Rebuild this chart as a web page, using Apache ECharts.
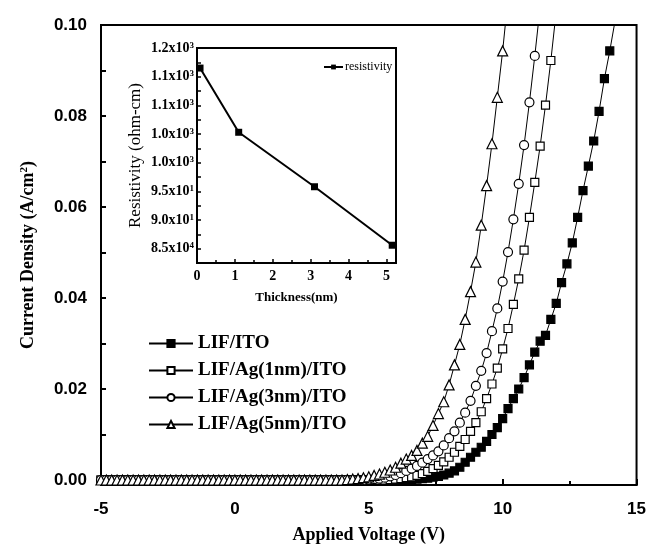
<!DOCTYPE html>
<html><head><meta charset="utf-8">
<script src="https://cdn.jsdelivr.net/npm/echarts@6/dist/echarts.min.js"></script>
<style>html,body{margin:0;padding:0;background:#fff}#c{width:649px;height:549px}</style>
</head><body><div id="c"></div>
<script>
// Applied voltage (V), shared by all four J-V series
const voltage = [-5.0,-4.8,-4.6,-4.4,-4.2,-4.0,-3.8,-3.6,-3.4,-3.2,-3.0,-2.8,-2.6,-2.4,-2.2,-2.0,-1.8,-1.6,-1.4,-1.2,-1.0,-0.8,-0.6,-0.4,-0.2,0.0,0.2,0.4,0.6,0.8,1.0,1.2,1.4,1.6,1.8,2.0,2.2,2.4,2.6,2.8,3.0,3.2,3.4,3.6,3.8,4.0,4.2,4.4,4.6,4.8,5.0,5.2,5.4,5.6,5.8,6.0,6.2,6.4,6.6,6.8,7.0,7.2,7.4,7.6,7.8,8.0,8.2,8.4,8.6,8.8,9.0,9.2,9.4,9.6,9.8,10.0,10.2,10.4,10.6,10.8,11.0,11.2,11.4,11.6,11.8,12.0,12.2,12.4,12.6,12.8,13.0,13.2,13.4,13.6,13.8,14.0,14.2];

// Current density (A/cm2), index-aligned with voltage
const jLiF = [0,0,0,0,0,0,0,0,0,0,0,0,0,0,0,0,0,0,0,0,0,0,0,0,0,0,0,0,0,0,0,0,0,0,0,0,0,0,0,0,0,0,0,0,0,0,0,0,0,0,0,0,0,0,0,0,0,0,
  0.0001,0.0002,0.0003,0.0004,0.0006,0.0008,0.0011,0.0015,0.0020,0.0028,0.0039,0.0050,0.0061,0.0072,0.0085,0.0100,0.0115,0.0135,0.0157,0.0179,0.0200,0.0225,0.0253,0.0281,0.0305,0.0318,0.0353,0.0388,0.0434,0.0475,0.0521,0.0577,0.0636,0.0690,0.0745,0.0810,0.0882,0.0943,0.1010];
const jAg1 = [0,0,0,0,0,0,0,0,0,0,0,0,0,0,0,0,0,0,0,0,0,0,0,0,0,0,0,0,0,0,0,0,0,0,0,0,0,0,0,0,0,0,0,0,0,0,0,0,0,0,0,0,0,0,
  0.0001,0.0002,0.0003,0.0005,0.0007,0.0010,0.0014,0.0019,0.0025,0.0032,0.0040,0.0050,0.0061,0.0074,0.0089,0.0107,0.0126,0.0150,0.0179,0.0211,0.0246,0.0288,0.0333,0.0386,0.0442,0.0505,0.0577,0.0654,0.0734,0.0824,0.0922,0.1030];
const jAg3 = [0,0,0,0,0,0,0,0,0,0,0,0,0,0,0,0,0,0,0,0,0,0,0,0,0,0,0,0,0,0,0,0,0,0,0,0,0,0,0,0,0,0,0,0,0,0,0,0,0,0,
  0.0001,0.0002,0.0003,0.0005,0.0008,0.0011,0.0015,0.0020,0.0025,0.0031,0.0038,0.0046,0.0054,0.0063,0.0076,0.0092,0.0107,0.0126,0.0148,0.0174,0.0207,0.0240,0.0279,0.0327,0.0377,0.0436,0.0501,0.0573,0.0651,0.0736,0.0830,0.0932,0.1040];
const jAg5 = [0,0,0,0,0,0,0,0,0,0,0,0,0,0,0,0,0,0,0,0,0,0,0,0,0,0,0,0,0,0,0,0,0,0,0,0,0,0,0,0,0,0,0,0,0,0,
  0.0001,0.0002,0.0003,0.0005,0.0007,0.0010,0.0013,0.0017,0.0022,0.0028,0.0037,0.0046,0.0054,0.0065,0.0081,0.0096,0.0120,0.0146,0.0172,0.0209,0.0253,0.0298,0.0353,0.0414,0.0479,0.0560,0.0647,0.0739,0.0841,0.0943,0.1060];

const seriesNames = ['LIF/ITO','LIF/Ag(1nm)/ITO','LIF/Ag(3nm)/ITO','LIF/Ag(5nm)/ITO'];

// Main y-axis tick marks and labels
const yLabelValues = [0, 0.02, 0.04, 0.06, 0.08, 0.10];
const yTickValues = [0, 0.01, 0.02, 0.03, 0.04, 0.05, 0.06, 0.07, 0.08, 0.09, 0.10];

// Inset: resistivity vs thickness
const thickness = [0.08, 1.1, 3.1, 5.15];
const resistivity = [116.5, 105.3, 95.8, 85.6];
const insetTickValues = [85, 90, 95, 100, 105, 110, 115, 120];
const insetTickMant = ['8.5','9.0','9.5','1.0','1.0','1.1','1.1','1.2'];
const insetTickExp = ['4','1','1','3','3','3','3','3'];

const pair = (ys) => ys.map((y, i) => [voltage[i], y]);
const serif = 'Liberation Serif';
const sans = 'Liberation Sans';

const mk = (name, ys, symbol, size, fill) => ({
  name, type: 'line', data: pair(ys), xAxisIndex: 0, yAxisIndex: 0,
  symbol, symbolSize: size, showSymbol: true, clip: true,
  lineStyle: { color: '#000', width: 1 },
  itemStyle: { color: fill, borderColor: '#000', borderWidth: 1.2 },
  emphasis: { disabled: true }, animation: false
});

const chart = echarts.init(document.getElementById('c'), null, { renderer: 'canvas' });
chart.setOption({
  animation: false,
  backgroundColor: '#fff',
  grid: [
    { left: 101, right: 10, top: 25, bottom: 59, show: true, borderColor: '#000', borderWidth: 2 },
    { left: 197, top: 48, width: 199, height: 215, show: true, borderColor: '#000', borderWidth: 2, backgroundColor: '#fff' }
  ],
  legend: [
    { data: seriesNames, orient: 'vertical', left: 143, top: 329, itemWidth: 44, itemHeight: 9, itemGap: 8,
      textStyle: { fontFamily: serif, fontWeight: 'bold', fontSize: 19, color: '#000' }, inactiveColor: '#000' },
    { data: ['resistivity'], left: 318, top: 56, itemWidth: 19, itemHeight: 6, itemGap: 2,
      textStyle: { fontFamily: serif, fontSize: 12, color: '#000', padding: [0,0,0,-3] } }
  ],
  xAxis: [
    { type: 'value', gridIndex: 0, min: -5, max: 15, interval: 5,
      axisLine: { onZero: false, lineStyle: { color: '#000', width: 2 } },
      axisTick: { inside: true, length: 6, lineStyle: { color: '#000', width: 2 } },
      minorTick: { show: true, splitNumber: 2, length: 4, lineStyle: { color: '#000', width: 2 } },
      splitLine: { show: false },
      axisLabel: { margin: 16, fontFamily: sans, fontWeight: 'bold', fontSize: 17, color: '#000' },
      name: 'Applied Voltage (V)', nameLocation: 'middle', nameGap: 41,
      nameTextStyle: { fontFamily: serif, fontWeight: 'bold', fontSize: 18, color: '#000' } },
    { type: 'value', gridIndex: 1, min: 0, max: 5.25, interval: 1,
      axisLine: { onZero: false, lineStyle: { color: '#000', width: 2 } },
      axisTick: { inside: true, length: 4, lineStyle: { color: '#000', width: 1.5 } },
      minorTick: { show: true, splitNumber: 2, length: 3, lineStyle: { color: '#000', width: 1.5 } },
      splitLine: { show: false },
      axisLabel: { margin: 6, fontFamily: serif, fontWeight: 'bold', fontSize: 14, color: '#000' },
      name: 'Thickness(nm)', nameLocation: 'middle', nameGap: 28,
      nameTextStyle: { fontFamily: serif, fontWeight: 'bold', fontSize: 13, color: '#000' } }
  ],
  yAxis: [
    { type: 'value', gridIndex: 0, min: -0.0011, max: 0.1,
      axisLine: { onZero: false, lineStyle: { color: '#000', width: 2 } },
      axisTick: { inside: true, length: 5, customValues: yTickValues, lineStyle: { color: '#000', width: 2 } },
      splitLine: { show: false },
      axisLabel: { margin: 14, customValues: yLabelValues, fontFamily: sans, fontWeight: 'bold', fontSize: 17, color: '#000',
        formatter: (v) => v.toFixed(2) },
      name: 'Current Density (A/cm{sup|2})', nameLocation: 'middle', nameGap: 64,
      nameTextStyle: { fontFamily: serif, fontWeight: 'bold', fontSize: 18, color: '#000',
        rich: { sup: { fontFamily: serif, fontWeight: 'bold', fontSize: 11, verticalAlign: 'top', color: '#000' } } } },
    { type: 'value', gridIndex: 1, min: 82.5, max: 120, interval: 2.5,
      axisLine: { onZero: false, lineStyle: { color: '#000', width: 2 } },
      axisTick: { inside: true, length: 4, lineStyle: { color: '#000', width: 1.5 } },
      splitLine: { show: false },
      axisLabel: { margin: 3, fontFamily: serif, fontWeight: 'bold', fontSize: 14, color: '#000',
        formatter: (v) => {
          const k = insetTickValues.findIndex(t => Math.abs(t - v) < 1e-6);
          return k < 0 ? '' : insetTickMant[k] + 'x10{sup|' + insetTickExp[k] + '}';
        },
        rich: { sup: { fontFamily: serif, fontSize: 9, verticalAlign: 'top', color: '#000' } } },
      name: 'Resistivity (ohm-cm)', nameLocation: 'middle', nameGap: 53,
      nameTextStyle: { fontFamily: serif, fontSize: 17, color: '#000' } }
  ],
  series: [
    mk(seriesNames[0], jLiF, 'rect', 8, '#000'),
    mk(seriesNames[1], jAg1, 'rect', 8, '#fff'),
    mk(seriesNames[2], jAg3, 'circle', 9, '#fff'),
    mk(seriesNames[3], jAg5, 'triangle', 10, '#fff'),
    { name: 'resistivity', type: 'line', xAxisIndex: 1, yAxisIndex: 1,
      data: thickness.map((t, i) => [t, resistivity[i]]),
      symbol: 'rect', symbolSize: 7, lineStyle: { color: '#000', width: 2 },
      itemStyle: { color: '#000' }, emphasis: { disabled: true }, z: 5 }
  ]
});
</script></body></html>
